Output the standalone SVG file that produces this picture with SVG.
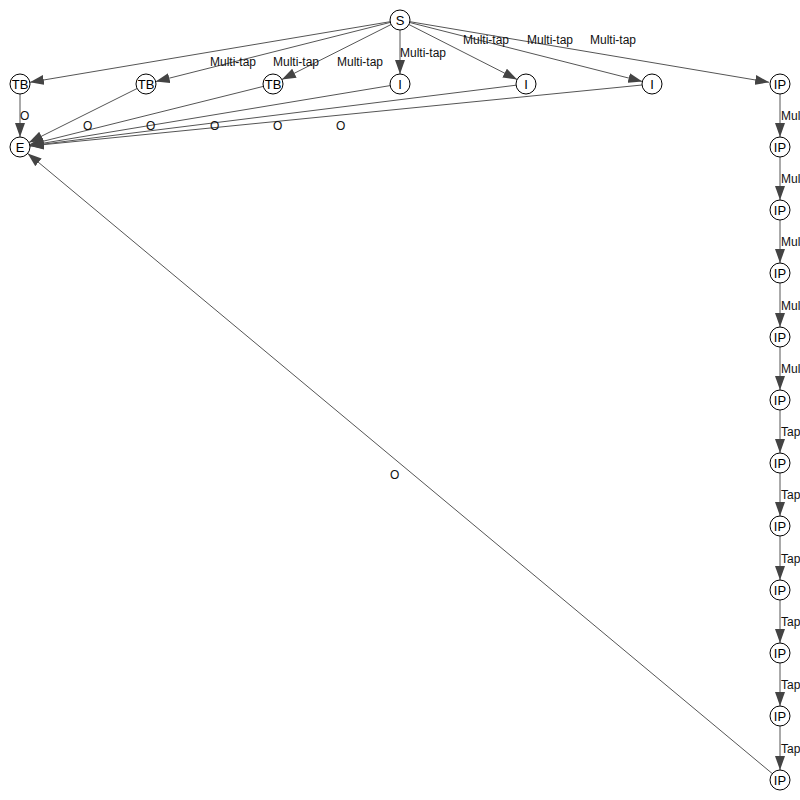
<svg xmlns="http://www.w3.org/2000/svg" width="800" height="800" viewBox="0 0 800 800">
<style>
.n circle{fill:#fff;stroke:#000;stroke-width:1}
.n text{font-family:"Liberation Sans",Arial,sans-serif;font-size:13px;fill:#000;text-anchor:middle;dominant-baseline:central}
.e line{stroke:#555;stroke-width:1;marker-end:url(#ah)}
.l{font-family:"Liberation Sans",Arial,sans-serif;font-size:12px;fill:#111}
</style>
<defs>
<marker id="ah" markerUnits="userSpaceOnUse" viewBox="0 0 14 10" refX="14" refY="5" markerWidth="14" markerHeight="10" orient="auto">
<path d="M0,0 L14,5 L0,10 z" fill="#444"/>
</marker>
</defs>
<g id="edges" class="e">
<line x1="390.1" y1="21.7" x2="29.9" y2="82.3"/>
<line x1="390.3" y1="22.4" x2="155.7" y2="81.6"/>
<line x1="391.1" y1="24.5" x2="281.9" y2="79.5"/>
<line x1="400" y1="30" x2="400" y2="74"/>
<line x1="408.9" y1="24.5" x2="517.1" y2="79.5"/>
<line x1="409.7" y1="22.5" x2="642.3" y2="81.5"/>
<line x1="409.9" y1="21.7" x2="769.1" y2="82.3"/>
<line x1="20" y1="94" x2="20" y2="137"/>
<line x1="137.1" y1="88.5" x2="28.9" y2="142.5"/>
<line x1="263.3" y1="86.4" x2="29.7" y2="144.6"/>
<line x1="390.1" y1="85.6" x2="29.9" y2="145.4"/>
<line x1="516.1" y1="85.2" x2="29.9" y2="145.8"/>
<line x1="642" y1="85" x2="30" y2="146"/>
<line x1="772.3" y1="773.6" x2="27.7" y2="153.4"/>
<line x1="780" y1="94" x2="780" y2="137"/>
<line x1="780" y1="157" x2="780" y2="200"/>
<line x1="780" y1="220" x2="780" y2="263"/>
<line x1="780" y1="283" x2="780" y2="327"/>
<line x1="780" y1="347" x2="780" y2="390"/>
<line x1="780" y1="410" x2="780" y2="453"/>
<line x1="780" y1="473" x2="780" y2="516"/>
<line x1="780" y1="536" x2="780" y2="580"/>
<line x1="780" y1="600" x2="780" y2="643"/>
<line x1="780" y1="663" x2="780" y2="706"/>
<line x1="780" y1="726" x2="780" y2="770"/>
</g>
<g id="labels" class="l">
<text x="210" y="66">Multi-tap</text>
<text x="273" y="66">Multi-tap</text>
<text x="337" y="66">Multi-tap</text>
<text x="400" y="57">Multi-tap</text>
<text x="463" y="44">Multi-tap</text>
<text x="527" y="44">Multi-tap</text>
<text x="590" y="44">Multi-tap</text>
<text x="20" y="120">O</text>
<text x="83" y="130">O</text>
<text x="146" y="130">O</text>
<text x="210" y="130">O</text>
<text x="273" y="130">O</text>
<text x="336" y="130">O</text>
<text x="390" y="479">O</text>
<text x="781" y="120">Multi-tap</text>
<text x="781" y="183">Multi-tap</text>
<text x="781" y="246">Multi-tap</text>
<text x="781" y="310">Multi-tap</text>
<text x="781" y="373">Multi-tap</text>
<text x="781" y="436">Tap</text>
<text x="781" y="499">Tap</text>
<text x="781" y="563">Tap</text>
<text x="781" y="626">Tap</text>
<text x="781" y="689">Tap</text>
<text x="781" y="753">Tap</text>
</g>
<g id="S" class="n"><circle cx="400" cy="20" r="10"/><text x="400" y="20">S</text></g>
<g id="TB1" class="n"><circle cx="20" cy="84" r="10"/><text x="20" y="84">TB</text></g>
<g id="TB2" class="n"><circle cx="146" cy="84" r="10"/><text x="146" y="84">TB</text></g>
<g id="TB3" class="n"><circle cx="273" cy="84" r="10"/><text x="273" y="84">TB</text></g>
<g id="I1" class="n"><circle cx="400" cy="84" r="10"/><text x="400" y="84">I</text></g>
<g id="I2" class="n"><circle cx="526" cy="84" r="10"/><text x="526" y="84">I</text></g>
<g id="I3" class="n"><circle cx="652" cy="84" r="10"/><text x="652" y="84">I</text></g>
<g id="E" class="n"><circle cx="20" cy="147" r="10"/><text x="20" y="147">E</text></g>
<g id="IP1" class="n"><circle cx="780" cy="84" r="10"/><text x="780" y="84">IP</text></g>
<g id="IP2" class="n"><circle cx="780" cy="147" r="10"/><text x="780" y="147">IP</text></g>
<g id="IP3" class="n"><circle cx="780" cy="210" r="10"/><text x="780" y="210">IP</text></g>
<g id="IP4" class="n"><circle cx="780" cy="273" r="10"/><text x="780" y="273">IP</text></g>
<g id="IP5" class="n"><circle cx="780" cy="337" r="10"/><text x="780" y="337">IP</text></g>
<g id="IP6" class="n"><circle cx="780" cy="400" r="10"/><text x="780" y="400">IP</text></g>
<g id="IP7" class="n"><circle cx="780" cy="463" r="10"/><text x="780" y="463">IP</text></g>
<g id="IP8" class="n"><circle cx="780" cy="526" r="10"/><text x="780" y="526">IP</text></g>
<g id="IP9" class="n"><circle cx="780" cy="590" r="10"/><text x="780" y="590">IP</text></g>
<g id="IP10" class="n"><circle cx="780" cy="653" r="10"/><text x="780" y="653">IP</text></g>
<g id="IP11" class="n"><circle cx="780" cy="716" r="10"/><text x="780" y="716">IP</text></g>
<g id="IP12" class="n"><circle cx="780" cy="780" r="10"/><text x="780" y="780">IP</text></g>
</svg>
